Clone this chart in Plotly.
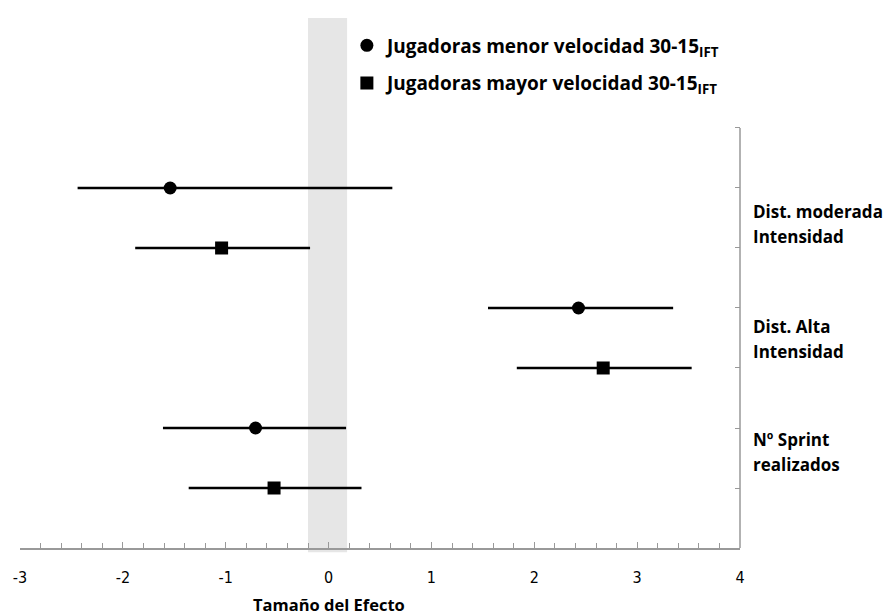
import plotly.graph_objects as go

# Data
series_names = ["Jugadoras menor velocidad 30-15<sub>IFT</sub>",
                "Jugadoras mayor velocidad 30-15<sub>IFT</sub>"]
category_lines = [("Dist. moderada", "Intensidad"),
                  ("Dist. Alta", "Intensidad"),
                  ("Nº Sprint", "realizados")]
cat_pos = [5.4, 3.48, 1.6]

menor_y = [6, 4, 2]
menor_es = [-1.54, 2.43, -0.71]
menor_lo = [-2.44, 1.55, -1.61]
menor_hi = [0.62, 3.35, 0.17]

mayor_y = [5, 3, 1]
mayor_es = [-1.04, 2.67, -0.53]
mayor_lo = [-1.88, 1.83, -1.36]
mayor_hi = [-0.18, 3.53, 0.32]

x_ticks = [-3, -2, -1, 0, 1, 2, 3, 4]
x_tick_labels = ["-3", "-2", "-1", "0", "1", "2", "3", "4"]
band = [-0.2, 0.18]

fig = go.Figure()


def add_series(name, ys, es, lo, hi, symbol, size):
    fig.add_trace(go.Scatter(
        x=es, y=ys, mode="markers", name=name,
        legendgroup=name,
        marker=dict(symbol=symbol, size=size, color="black"),
        error_x=dict(type="data", symmetric=False,
                     array=[h - e for h, e in zip(hi, es)],
                     arrayminus=[e - l for e, l in zip(es, lo)],
                     width=0, thickness=2.5, color="black"),
    ))


add_series(series_names[0], menor_y, menor_es, menor_lo, menor_hi, "circle", 13)
add_series(series_names[1], mayor_y, mayor_es, mayor_lo, mayor_hi, "square", 13)

# Gray reference band
fig.add_shape(type="rect", xref="x", yref="paper", x0=band[0], x1=band[1],
              y0=-0.008, y1=1, fillcolor="#e6e6e6", line_width=0, layer="below")
# Vertical axis line (right side)
fig.add_shape(type="line", xref="paper", yref="y", x0=1, x1=1, y0=0, y1=7,
              line=dict(color="#999999", width=1.5))

label_font = "Open Sans, Lato, sans-serif"
tick_font = "DejaVu Sans Condensed, Liberation Sans Narrow, Liberation Sans"

for (l1, l2), yp in zip(category_lines, cat_pos):
    for txt, dy in ((l1, 12.5), (l2, -12.5)):
        fig.add_annotation(text=txt, xref="paper", yref="y", x=1, y=yp,
                           xanchor="left", yanchor="middle", xshift=11, yshift=dy,
                           showarrow=False, align="left",
                           font=dict(family=label_font, size=17, color="black",
                                     weight="bold"))

fig.add_annotation(text="Tamaño del Efecto", xref="x", yref="paper", x=0, y=0,
                   yshift=-56, xanchor="center", yanchor="middle", showarrow=False,
                   font=dict(family=label_font, size=16.5, color="black", weight="bold"))

# note: the page body has an 8px default margin, so the figure is sized and
# offset so that it fills the 891x615 window exactly
fig.update_layout(
    width=883, height=607,
    margin=dict(l=12, r=151, t=10, b=67, autoexpand=False),
    plot_bgcolor="white", paper_bgcolor="white",
    showlegend=True,
    legend=dict(x=0.454, y=0.984, xanchor="left", yanchor="top",
                bgcolor="rgba(0,0,0,0)", traceorder="grouped", tracegroupgap=10,
                font=dict(family=label_font, size=19, color="black", weight="bold")),
    xaxis=dict(range=[-3, 4], tickvals=x_ticks, ticktext=x_tick_labels,
               ticks="inside", ticklen=6, automargin=False,
               tickcolor="#999999", showgrid=False, zeroline=False,
               showline=True, linecolor="#999999", linewidth=1.5,
               minor=dict(dtick=0.2, ticks="inside", ticklen=5, tickcolor="#999999",
                          showgrid=False),
               ticklabelstandoff=14,
               tickfont=dict(family=tick_font, size=16, color="black")),
    yaxis=dict(range=[0, 8.833], tickvals=[0, 1, 2, 3, 4, 5, 6, 7], side="right",
               ticks="inside", ticklen=5, tickcolor="#999999", showticklabels=False,
               automargin=False,
               showgrid=False, zeroline=False, showline=False),
)

fig.write_html("out.html")
